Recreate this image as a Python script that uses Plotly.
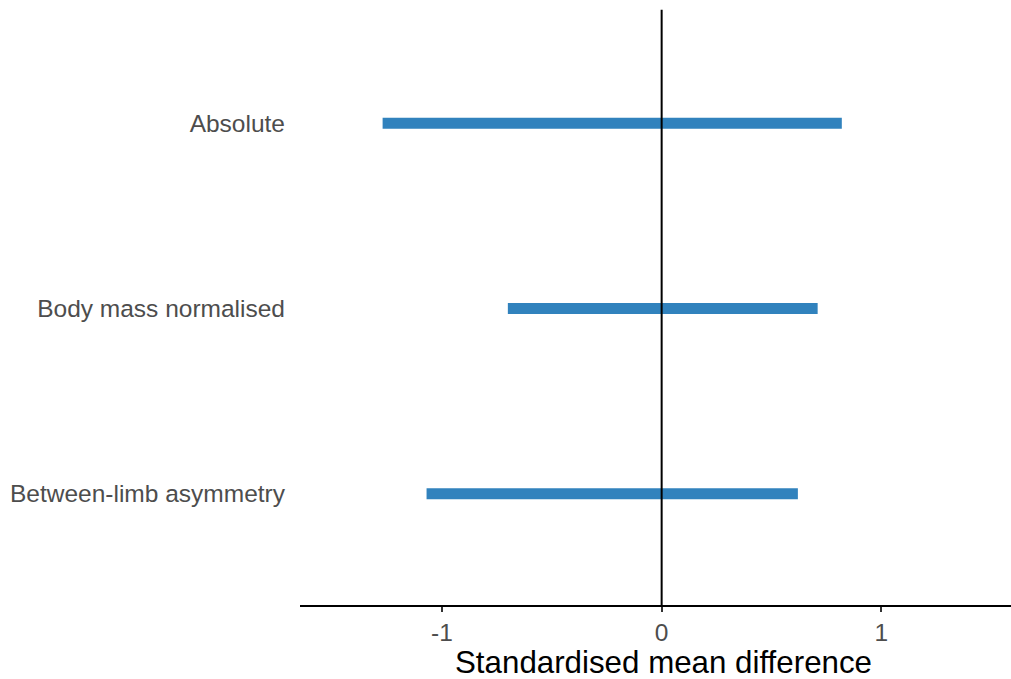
import plotly.graph_objects as go

categories = ["Absolute", "Body mass normalised", "Between-limb asymmetry"]
lower = [-1.27, -0.70, -1.07]
upper = [0.82, 0.71, 0.62]
x_ticks = [-1, 0, 1]
x_title = "Standardised mean difference"

xs, ys = [], []
for c, lo, hi in zip(categories, lower, upper):
    xs += [lo, hi, None]
    ys += [c, c, None]

fig = go.Figure()
fig.add_trace(go.Scatter(
    x=xs, y=ys, mode="lines",
    line=dict(color="#3182BD", width=11),
    hoverinfo="skip", showlegend=False,
))

fig.add_shape(type="line", xref="x", yref="paper", x0=0, x1=0, y0=0, y1=1.004,
              line=dict(color="black", width=2))

# x-axis title (centred as in the reference, which centres on a slightly wider panel)
fig.add_annotation(text=x_title, xref="x", yref="paper", x=0.007, y=0,
                   xanchor="center", yanchor="middle", yshift=-57, showarrow=False,
                   font=dict(size=31.3, color="black"))

fig.update_layout(
    width=1011, height=679,
    margin=dict(l=300, r=0, t=12, b=74),
    paper_bgcolor="white", plot_bgcolor="white",
    font=dict(family="Liberation Sans, Arial, sans-serif"),
    xaxis=dict(
        range=[-1.646, 1.59], tickvals=x_ticks, ticktext=[str(t) for t in x_ticks],
        showgrid=False, zeroline=False,
        showline=True, linecolor="black", linewidth=2,
        ticks="outside", ticklen=5, tickwidth=2, tickcolor="#333333",
        tickfont=dict(size=24.5, color="#4d4d4d"),
    ),
    yaxis=dict(
        type="category", categoryorder="array", categoryarray=categories[::-1],
        range=[-0.6, 2.6], showgrid=False, zeroline=False, showline=False,
        ticks="", ticklabelstandoff=14,
        tickfont=dict(size=24.5, color="#4d4d4d"),
    ),
)

fig.write_html(
    "out.html",
    config={"displayModeBar": False},
    post_script="document.body.style.margin='0';document.body.style.overflow='hidden';",
)
